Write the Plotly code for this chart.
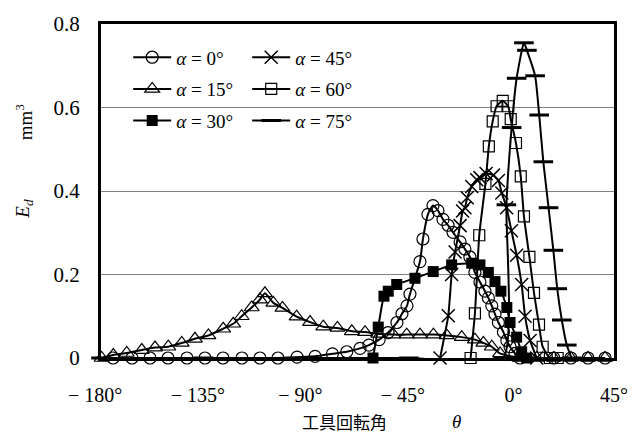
import plotly.graph_objects as go

# ---------------- data ----------------
theta_a0 = [-174.7, -166.4, -158.5, -150.6, -142.3, -134.4, -126.5, -118.2, -110.3, -102.4,
            -94.0, -86.1, -78.5, -72.2, -66.4, -62.5, -58.0, -54.1, -50.2, -48.0, -45.8, -44.5,
            -40.1, -38.8, -36.6, -34.4, -32.2, -30.0, -27.8, -25.6, -22.5, -20.4, -18.2, -16.0,
            -13.8, -11.6, -10.1, -8.6, -7.2, -5.7, -3.5, -2.0, -0.6, 1.6, 3.8,
            18.6, 26.1, 33.6, 41.1]
ed_a0 = [0, 0, 0, 0, 0, 0, 0, 0, 0, 0,
         0.002, 0.004, 0.010, 0.015, 0.023, 0.031, 0.044, 0.061, 0.085, 0.106, 0.125, 0.153,
         0.231, 0.285, 0.344, 0.365, 0.353, 0.332, 0.318, 0.301, 0.278, 0.261, 0.242, 0.205,
         0.182, 0.160, 0.144, 0.125, 0.105, 0.085, 0.062, 0.042, 0.027, 0.011, 0.0,
         0, 0, 0, 0]

theta_a15 = [-179.7, -174.6, -168.7, -162.1, -156.3, -150.5, -144.6, -138.8, -132.9, -126.4,
             -122.0, -118.3, -113.9, -110.3, -108.1, -104.4, -100.4, -94.2, -88.3, -82.5,
             -76.3, -70.0, -64.2, -58.4, -51.8, -45.9, -40.1, -34.2, -28.4, -21.8, -16.0,
             -12.3, -8.6, -5.0, 3.6, 11.1, 18.6, 26.1, 33.6, 41.1]
ed_a15 = [0.0, 0.007, 0.012, 0.019, 0.025, 0.027, 0.036, 0.046, 0.054, 0.070,
          0.082, 0.100, 0.121, 0.140, 0.155, 0.132, 0.120, 0.099, 0.086, 0.075,
          0.072, 0.064, 0.062, 0.058, 0.056, 0.056, 0.056, 0.056, 0.054, 0.050, 0.044,
          0.036, 0.027, 0.011, 0, 0, 0, 0, 0, 0]

theta_a30 = [-60.7, -58.4, -55.9, -54.0, -50.3, -42.3, -34.3, -26.2, -17.4, -13.8,
             -10.1, -7.2, -4.6, -2.0, -0.6, 2.3, 4.5, 6.7]
ed_a30 = [0.0, 0.074, 0.148, 0.160, 0.176, 0.191, 0.207, 0.223, 0.227, 0.223,
          0.205, 0.183, 0.160, 0.121, 0.085, 0.050, 0.015, 0.0]

theta_a45 = [-31.3, -27.7, -26.2, -24.7, -22.5, -21.4, -20.4, -19.4, -17.4, -15.2, -13.8,
             -11.1, -7.9, -5.7, -4.2, -2.1, 0.0, 2.3, 4.5, 6.0, 8.2, 11.1]
ed_a45 = [0.0, 0.101, 0.200, 0.254, 0.317, 0.352, 0.360, 0.384, 0.411, 0.427, 0.432,
          0.442, 0.438, 0.425, 0.395, 0.360, 0.305, 0.246, 0.176, 0.100, 0.042, 0.0]

theta_a60 = [-17.9, -16.0, -14.1, -11.4, -9.9, -8.2, -6.5, -3.8, -1.4, -0.3, 2.0, 4.1, 5.5,
             7.9, 9.9, 12.1, 13.7, 16.9, 20.3]
ed_a60 = [0.0, 0.107, 0.294, 0.417, 0.507, 0.567, 0.603, 0.616, 0.603, 0.572, 0.515, 0.435,
          0.339, 0.242, 0.156, 0.080, 0.027, 0.0, 0.0]

theta_a75 = [-180.0, -135.0, -90.0, -45.0, -3.6, -2.2, 0.1, 2.3, 5.5, 6.8, 10.4, 12.2, 14.0,
             16.3, 18.4, 20.1, 22.1, 24.3, 26.4]
ed_a75 = [0, 0, 0, 0, 0.0, 0.367, 0.552, 0.670, 0.755, 0.737, 0.676, 0.582, 0.470,
          0.360, 0.258, 0.166, 0.091, 0.031, 0.0]

legend_names = ["<i>α</i> = 0°", "<i>α</i> = 15°", "<i>α</i> = 30°",
                "<i>α</i> = 45°", "<i>α</i> = 60°", "<i>α</i> = 75°"]

x_ticks = [-180, -135, -90, -45, 0, 45]
x_ticktext = ["− 180°\u2002\u200a", "− 135°\u2002\u200a", "− 90°\u2002\u200a",
              "− 45°\u2002\u200a", "\u20090°", "45°"]
y_ticks = [0, 0.2, 0.4, 0.6, 0.8]
y_ticktext = ["0", "0.2", "0.4", "0.6", "0.8"]

x_title = "工具回転角"
x_title_sym = "<i>θ</i>"
y_title_sym = "<i>E<sub>d</sub></i>"
y_title_unit = "mm<sup>3</sup>"

# ---------------- figure ----------------
SERIF = "Liberation Serif"
CJK = "Noto Sans CJK JP"

styles = [
    dict(symbol="circle-open", size=12, color="black", line=dict(width=1.2, color="black")),
    dict(symbol="triangle-up-open", size=13, color="black", line=dict(width=1.2, color="black")),
    dict(symbol="square", size=11, color="black", line=dict(width=0, color="black")),
    dict(symbol="x-thin-open", size=13, color="black", line=dict(width=1.5, color="black")),
    dict(symbol="square-open", size=11, color="black", line=dict(width=1.2, color="black")),
    dict(symbol="line-ew-open", size=14, color="black", line=dict(width=3, color="black")),
]
data = [(theta_a0, ed_a0), (theta_a15, ed_a15), (theta_a30, ed_a30),
        (theta_a45, ed_a45), (theta_a60, ed_a60), (theta_a75, ed_a75)]

fig = go.Figure()
for i, ((xs, ys), name, st) in enumerate(zip(data, legend_names, styles)):
    fig.add_trace(go.Scatter(
        x=xs, y=ys, name=name, mode="lines+markers",
        line=dict(color="black", width=2, shape="spline", smoothing=0.5),
        marker=st,
        cliponaxis=False,
        legend="legend" if i < 3 else "legend2",
        legendgroup=f"g{i}",
    ))

fig.update_layout(
    width=642, height=438,
    margin=dict(l=101, r=28, t=18, b=80),
    paper_bgcolor="white", plot_bgcolor="white",
    font=dict(family=SERIF, size=19, color="black"),
    showlegend=True,
    legend=dict(x=0.053, y=0.957, xanchor="left", yanchor="top",
                bgcolor="rgba(0,0,0,0)", tracegroupgap=4, itemwidth=38,
                font=dict(family=SERIF, size=19)),
    legend2=dict(x=0.285, y=0.957, xanchor="left", yanchor="top",
                 bgcolor="rgba(0,0,0,0)", tracegroupgap=4, itemwidth=38,
                 font=dict(family=SERIF, size=19)),
    xaxis=dict(range=[-180, 45], tickvals=x_ticks, ticktext=x_ticktext,
               showgrid=False, zeroline=False, showline=True, linecolor="black",
               linewidth=3, mirror=True, ticks="", ticklabelstandoff=17,
               tickfont=dict(family=SERIF, size=20), layer="below traces"),
    yaxis=dict(range=[0, 0.8], tickvals=y_ticks, ticktext=y_ticktext,
               showgrid=True, gridcolor="#808080", gridwidth=1,
               zeroline=False, showline=True, linecolor="black",
               linewidth=3, mirror=True, ticks="", ticklabelstandoff=14,
               tickfont=dict(family=SERIF, size=21), layer="below traces"),
    annotations=[
        dict(text=x_title, xref="paper", yref="paper",
             x=(300 - 101) / 513, y=(358 - 423) / 340, xanchor="left", yanchor="middle",
             showarrow=False, font=dict(family=CJK, size=17)),
        dict(text=x_title_sym, xref="paper", yref="paper",
             x=(456 - 101) / 513, y=(358 - 423) / 340, xanchor="center", yanchor="middle",
             showarrow=False, font=dict(family=SERIF, size=19)),
        dict(text=y_title_sym, xref="paper", yref="paper",
             x=(24 - 101) / 513, y=(358 - 206) / 340, xanchor="center", yanchor="middle",
             showarrow=False, textangle=-90, font=dict(family=SERIF, size=19)),
        dict(text=y_title_unit, xref="paper", yref="paper",
             x=(24 - 101) / 513, y=(358 - 118) / 340, xanchor="center", yanchor="middle",
             showarrow=False, textangle=-90, font=dict(family=SERIF, size=19)),
    ],
)

fig.write_html("out.html")
